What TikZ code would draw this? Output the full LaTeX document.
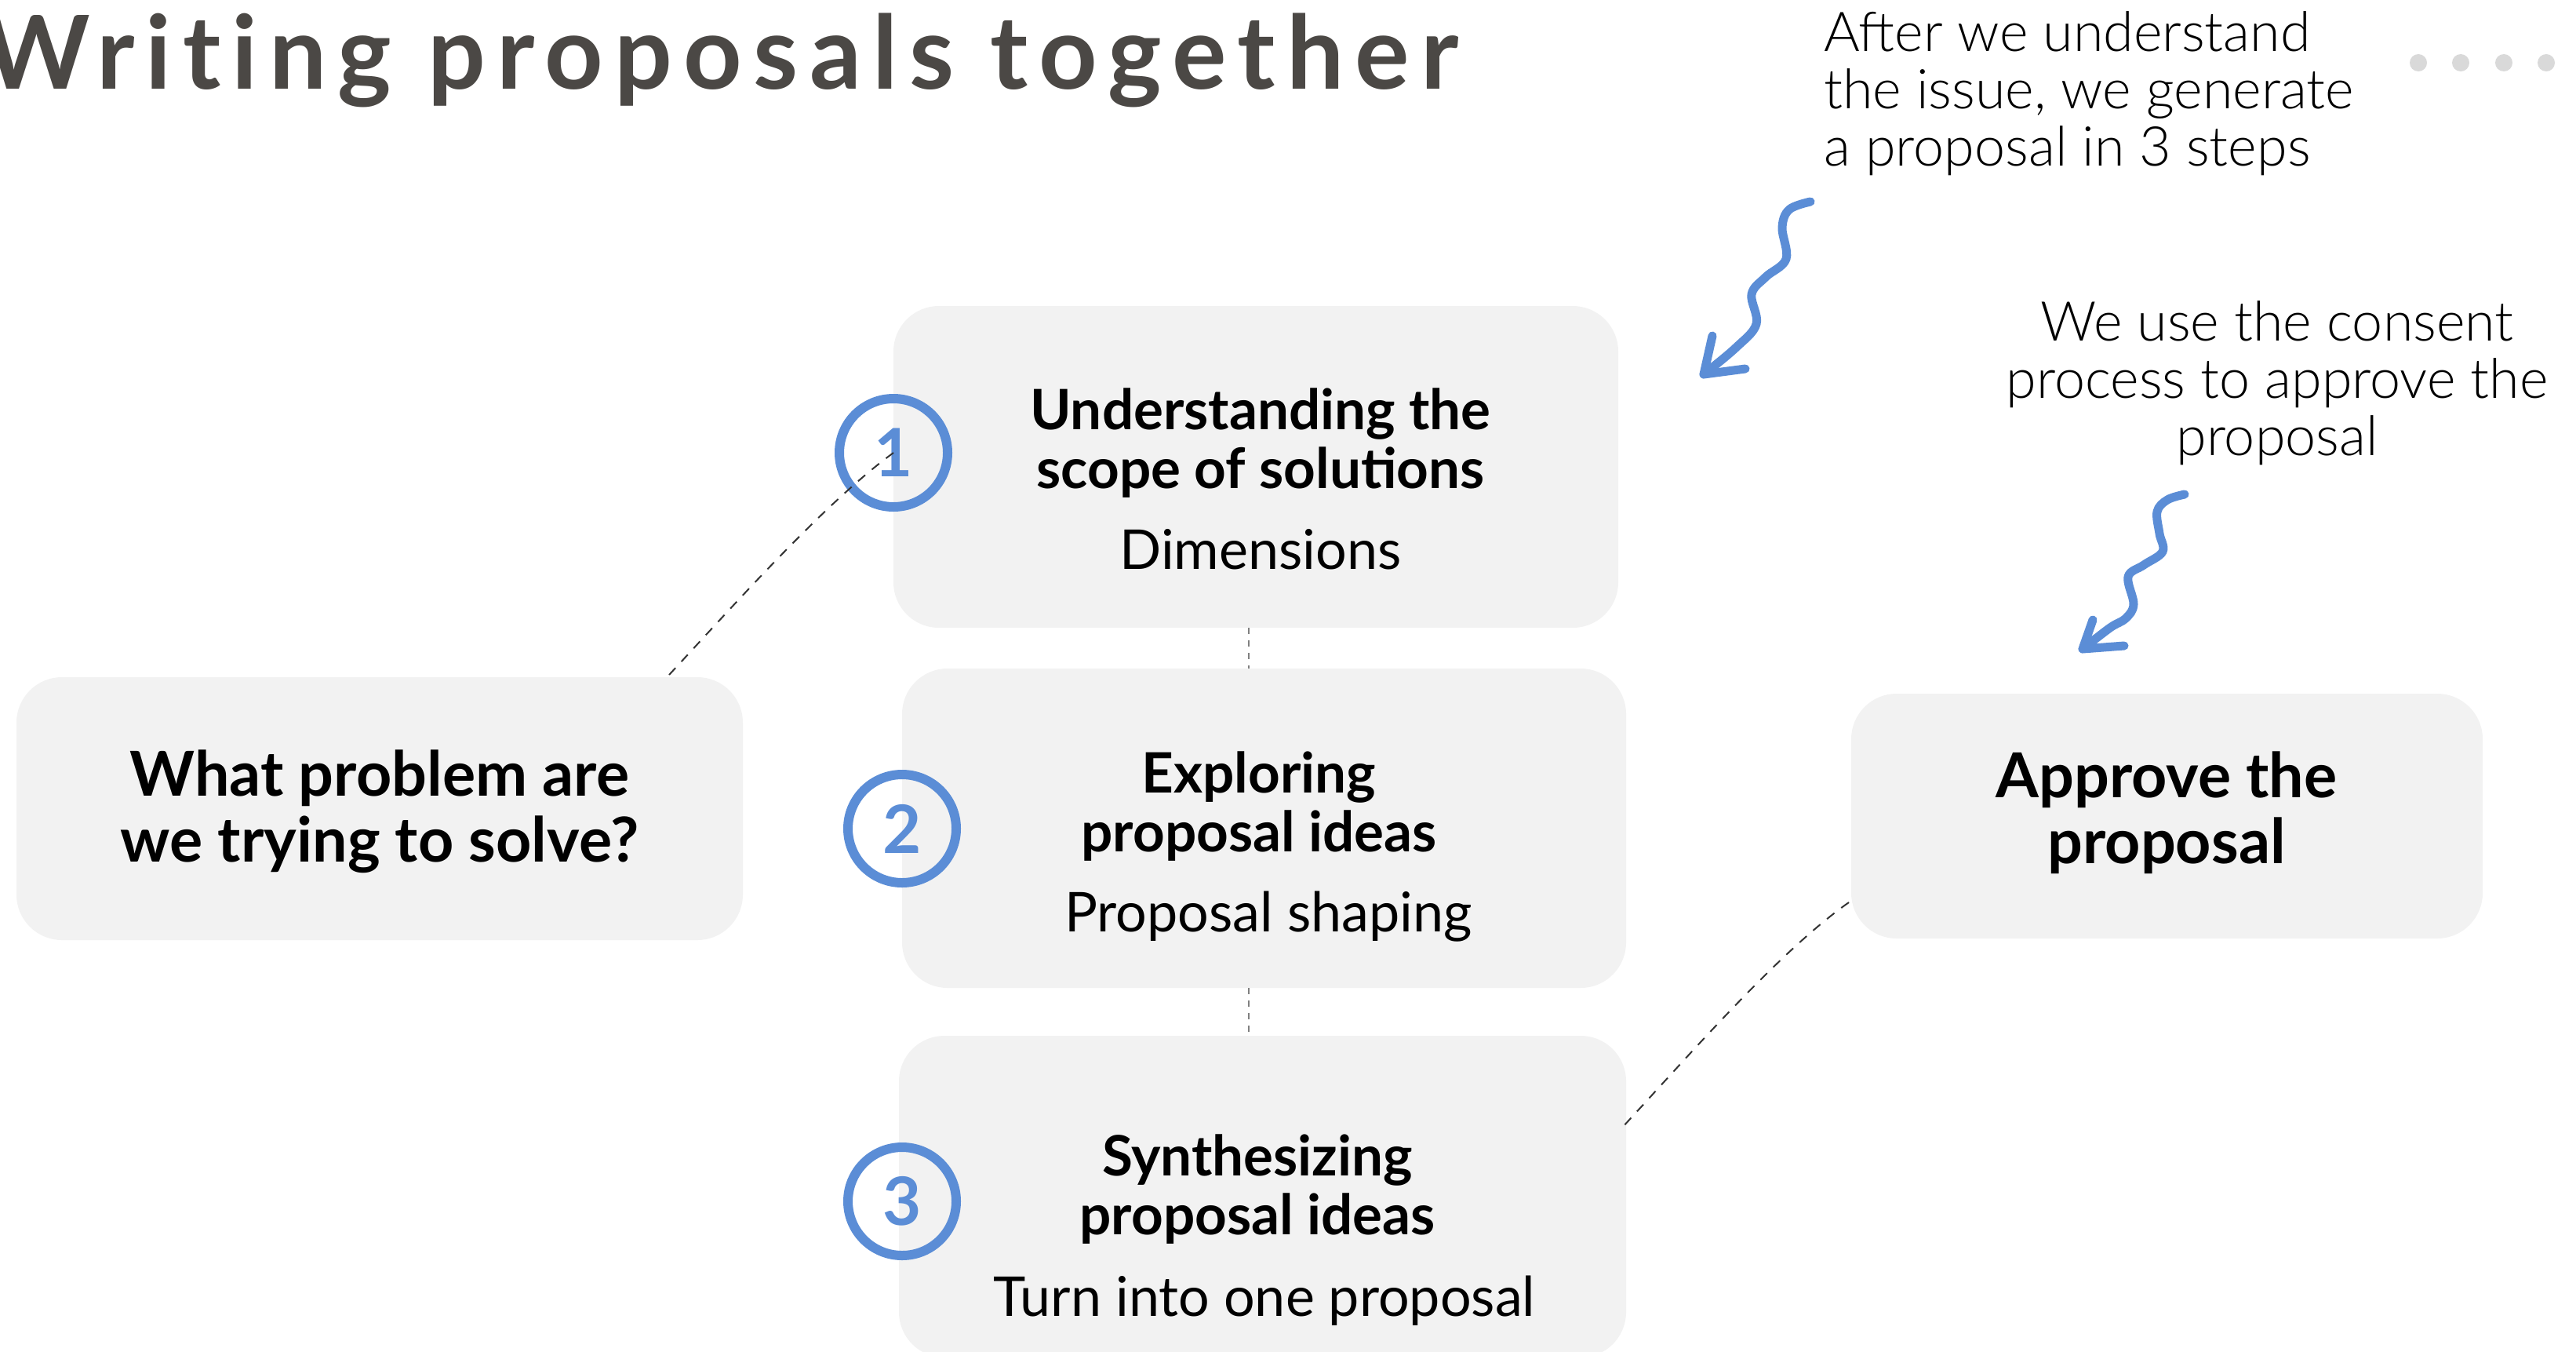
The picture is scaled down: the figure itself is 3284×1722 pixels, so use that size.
\documentclass[tikz,border=0pt]{standalone}
\usepackage{fontspec}
\setmainfont{Lato}
\newfontfamily\lightfont{Lato Light}
\definecolor{boxgray}{HTML}{F2F2F2}
\definecolor{stepblue}{HTML}{5B8DD6}
\definecolor{titlegray}{HTML}{4B4845}
\definecolor{dotgray}{HTML}{D9D9D9}
\definecolor{dashgray}{HTML}{333333}
\begin{document}
\begin{tikzpicture}[x=1pt,y=-1pt,
  panel/.style={fill=boxgray, draw=none, rounded corners=58pt, inner sep=0pt},
  boldtxt/.style={font=\fontsize{71}{75}\selectfont\bfseries, align=center, inner sep=0pt},
  bigbold/.style={font=\fontsize{79}{84}\selectfont\bfseries, align=center, inner sep=0pt},
  subtxt/.style={font=\fontsize{70}{75}\selectfont, inner sep=0pt},
  notetxt/.style={font=\lightfont\fontsize{70}{73}\selectfont, inner sep=0pt},
  stepcircle/.style={circle, draw=stepblue, line width=12pt, minimum size=138pt, inner sep=0pt,
     text=stepblue, font=\fontsize{85}{90}\selectfont\bfseries},
  conn/.style={draw=dashgray, line width=2pt, dash pattern=on 12pt off 11pt},
  vconn/.style={draw=gray, line width=2pt, dash pattern=on 8pt off 8pt},
  squiggle/.style={draw=stepblue, line width=11pt, line cap=round, line join=round},
  dotstyle/.style={circle, fill=dotgray, minimum size=22pt, inner sep=0pt}
]
\useasboundingbox (0,0) rectangle (3284,1722);
\fill[white] (0,0) rectangle (3284,1722);

% title
\node[anchor=base east, inner sep=0pt, text=titlegray,
      font=\fontsize{130}{140}\selectfont\bfseries\addfontfeatures{LetterSpace=11,Ligatures=NoCommon}]
      (title) at (1860,113) {Writing proposals together};

% dots
\node[dotstyle] (d1) at (3083,80) {};
\node[dotstyle] (d2) at (3137,80) {};
\node[dotstyle] (d3) at (3192,80) {};
\node[dotstyle] (d4) at (3246,80) {};

% boxes
\node[panel, minimum width=924pt, minimum height=410pt] (b1) at (1601,595) {};
\node[panel, minimum width=923pt, minimum height=407pt] (b2) at (1611.5,1055.5) {};
\node[panel, minimum width=927pt, minimum height=410pt] (b3) at (1609.5,1525) {};
\node[panel, minimum width=926pt, minimum height=335pt] (lb) at (484,1030.5) {};
\node[panel, minimum width=805pt, minimum height=312pt] (rb) at (2762.5,1040) {};

% vertical connectors
\draw[vconn] ([xshift=-9pt]b1.south) -- ([xshift=-19.5pt]b2.north);
\draw[vconn] ([xshift=-19.5pt]b2.south) -- ([xshift=-17.5pt]b3.north);

% box texts
\node[boldtxt] (t1) at (1607,565) {Understanding the\\scope of solutions};
\node[subtxt] (s1) at (1607,700) {Dimensions};
\node[boldtxt] (t2) at (1605,1028) {Exploring\\proposal ideas};
\node[subtxt] (s2) at (1617,1168) {Proposal shaping};
\node[boldtxt] (t3) at (1603,1516) {Synthesizing\\proposal ideas};
\node[subtxt] (s3) at (1612,1658) {Turn into one proposal};
\node[bigbold] (lt) at (484,1034) {What problem are\\we trying to solve?};
\node[bigbold] (rt) at (2762,1036) {Approve the\\proposal};

% step circles
\node[stepcircle] (c1) at (1139,577) {1};
\node[stepcircle] (c2) at (1150,1056) {2};
\node[stepcircle] (c3) at (1150,1531) {3};

% dashed connectors
\coordinate (lbtop) at (853,860);
\coordinate (rbleft) at (2357,1150);
\coordinate (b3right) at (2067,1438);
\draw[conn] (lbtop) .. controls (933,774) and (1051,641) .. (c1.center);
\draw[conn] (rbleft) .. controls (2267,1213) and (2147,1352) .. (b3right);

% annotations
\node[notetxt, anchor=west, align=left] (n1) at (2325,119)
  {After we understand\\the issue, we generate\\a proposal in 3 steps};
\node[notetxt, align=center] (n2) at (2903,488)
  {We use the consent\\process to approve the\\proposal};

% squiggly arrows
\coordinate (tip1) at (2172,477);
\draw[squiggle] plot[smooth, tension=0.6] coordinates {(2308,257) (2281,267) (2272,290) (2277,330) (2251,353) (2233,375) (2239,413) (2213,443) (tip1)};
\draw[squiggle] (2183,428) -- (tip1) -- (2225,470);

\coordinate (tip2) at (2655,827);
\draw[squiggle] plot[smooth, tension=0.6] coordinates {(2785,630) (2763,637) (2750,652) (2753,680) (2757,703) (2733,720) (2713,735) (2720,770) (2710,788) (2690,800) (tip2)};
\draw[squiggle] (2668,790) -- (tip2) -- (2708,823);
\end{tikzpicture}
\end{document}
